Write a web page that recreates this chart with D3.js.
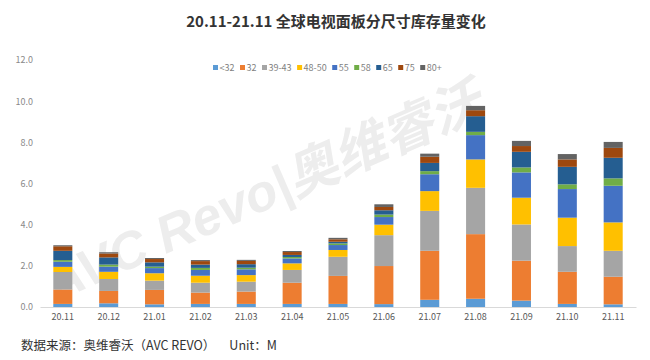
<!DOCTYPE html>
<html><head><meta charset="utf-8">
<script src="https://cdn.jsdelivr.net/npm/d3@7"></script>
<style>body{margin:0;background:#fff}svg{display:block}</style>
</head><body><svg id="c" width="650" height="360"></svg>
<script>
const months = ["20.11","20.12","21.01","21.02","21.03","21.04","21.05","21.06","21.07","21.08","21.09","21.10","21.11"];
const sizes = ["<32","32","39-43","48-50","55","58","65","75","80+"];
const colors = ["#5B9BD5","#ED7D31","#A5A5A5","#FFC000","#4472C4","#70AD47","#255E91","#9E480E","#636363"];
const s_lt32  = [0.15,0.18,0.13,0.15,0.15,0.15,0.15,0.14,0.35,0.40,0.31,0.15,0.13];
const s_32    = [0.70,0.60,0.70,0.55,0.60,1.03,1.36,1.85,2.38,3.14,1.94,1.56,1.34];
const s_39_43 = [0.85,0.58,0.45,0.48,0.48,0.62,0.93,1.50,1.94,2.25,1.76,1.25,1.26];
const s_48_50 = [0.25,0.35,0.36,0.34,0.32,0.32,0.33,0.51,0.96,1.38,1.30,1.38,1.38];
const s_55    = [0.25,0.25,0.25,0.28,0.28,0.24,0.24,0.37,0.82,1.18,1.23,1.39,1.78];
const s_58    = [0.08,0.10,0.07,0.10,0.08,0.07,0.08,0.12,0.15,0.16,0.24,0.23,0.36];
const s_65    = [0.45,0.35,0.21,0.16,0.17,0.10,0.08,0.21,0.40,0.76,0.76,0.85,1.00];
const s_75    = [0.22,0.19,0.16,0.17,0.16,0.14,0.12,0.16,0.30,0.29,0.28,0.36,0.48];
const s_80p   = [0.05,0.06,0.05,0.05,0.05,0.05,0.07,0.13,0.15,0.21,0.25,0.26,0.29];
const yTicks = [0,2,4,6,8,10,12];
const title = "20.11-21.11 全球电视面板分尺寸库存量变化";
const footer = "数据来源：奥维睿沃（AVC REVO）     Unit：M";

const series = [s_lt32,s_32,s_39_43,s_48_50,s_55,s_58,s_65,s_75,s_80p];
const table = months.map((m,i)=>{const o={month:m}; sizes.forEach((s,j)=>o[s]=series[j][i]); return o;});
const stacked = d3.stack().keys(sizes)(table);

const svg = d3.select("#c");
const font = "'Microsoft YaHei','Noto Sans CJK SC',sans-serif";
const x = d3.scaleBand().domain(months).range([40,636]).paddingInner(0.585).paddingOuter(0.29);
const y = d3.scaleLinear().domain([0,12]).range([307,60]);

// watermark
svg.append("text").attr("transform","translate(55,302) rotate(-23.5)")
  .attr("font-family","Arial,'Noto Sans CJK SC',sans-serif").attr("font-size",52).attr("font-weight","bold")
  .attr("font-style","italic").attr("fill","#ededed").text("AVC Revo|奥维睿沃");

svg.append("text").attr("x",336).attr("y",27).attr("text-anchor","middle")
  .attr("font-family",font).attr("font-size",15).attr("font-weight","bold").attr("fill","#333").text(title);

// y axis labels
const ya = svg.append("g").attr("transform","translate(33,0)")
  .call(d3.axisLeft(y).tickValues(yTicks).tickFormat(d3.format(".1f")).tickSize(0).tickPadding(0));
ya.select(".domain").remove();
ya.selectAll("text").attr("font-family",font).attr("font-size",9).attr("fill","#8a8a8a");

// bars
svg.append("g").selectAll("g").data(stacked).join("g").attr("fill",(d,i)=>colors[i])
  .selectAll("rect").data(d=>d).join("rect")
  .attr("x",d=>x(d.data.month)).attr("width",x.bandwidth())
  .attr("y",d=>y(d[1])).attr("height",d=>y(d[0])-y(d[1]));

// x axis
const xa = svg.append("g").attr("transform","translate(0,307)")
  .call(d3.axisBottom(x).tickSize(0).tickPadding(7));
xa.select(".domain").attr("stroke","#d9d9d9");
xa.selectAll("text").attr("font-family",font).attr("font-size",9).attr("fill","#595959");

// legend
const lg = svg.append("g").attr("transform","translate(213,68)");
let lx = 0;
sizes.forEach((s,i)=>{
  const g = lg.append("g").attr("transform",`translate(${lx},0)`);
  g.append("rect").attr("x",0).attr("y",-3).attr("width",5).attr("height",5).attr("fill",colors[i]);
  const t = g.append("text").attr("x",6.5).attr("y",2.5).attr("font-family",font).attr("font-size",9).attr("fill","#7f7f7f").text(s);
  lx += 6.5 + t.node().getComputedTextLength() + 5.5;
});

svg.append("text").attr("x",21).attr("y",350).attr("font-family",font).attr("font-size",12.5)
  .attr("fill","#333").attr("xml:space","preserve").style("white-space","pre").text(footer);
</script></body></html>
